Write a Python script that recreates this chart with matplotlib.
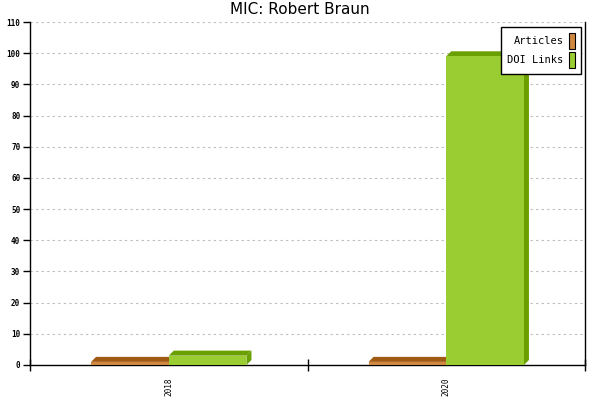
import matplotlib
matplotlib.use("Agg")
import matplotlib.pyplot as plt
from matplotlib.patches import Polygon, Rectangle

years = ["2018", "2020"]
articles = [1, 1]
doi_links = [3, 99]

series = [
  ("Articles", articles, "#d08840", "#a05a14"),
  ("DOI Links", doi_links, "#9acd32", "#6a9f00"),
]

fig = plt.figure(figsize=(6, 4), dpi=100)
ax = fig.add_axes([30 / 600, 35 / 400, 555 / 600, 343 / 400])

ymax = 110
ax.set_xlim(-0.5, len(years) - 0.5)
ax.set_ylim(0, ymax)

width = 0.28
# 3d depth: ~5px in data units
dx = 5 / 555 * len(years)
dy = 5 / 343 * ymax

for k, (name, vals, front, dark) in enumerate(series):
  for i, v in enumerate(vals):
    x0 = i - width + k * width
    x1 = x0 + width
    ax.add_patch(Polygon([(x0, v), (x0 + dx, v + dy), (x1 + dx, v + dy), (x1, v)],
                         closed=True, facecolor=dark, edgecolor="none", zorder=3))
    ax.add_patch(Polygon([(x1, 0), (x1 + dx, dy), (x1 + dx, v + dy), (x1, v)],
                         closed=True, facecolor=dark, edgecolor="none", zorder=3))
  ax.bar([i - width / 2 + k * width for i in range(len(years))], vals, width=width,
         color=front, edgecolor="none", zorder=4, label=name)

ax.set_yticks(range(0, ymax + 1, 10))
ax.yaxis.grid(True, linestyle=(0, (2, 3)), color="#bbbbbb", linewidth=0.8)
ax.set_axisbelow(True)

ax.set_xticks([i - 0.5 for i in range(len(years) + 1)])
ax.set_xticklabels([])
ax.set_xticks(range(len(years)), minor=True)
ax.set_xticklabels(years, minor=True, rotation=90, fontsize=5.5,
                   family="DejaVu Sans Mono")
ax.tick_params(axis="x", which="major", direction="inout", length=9, width=1)
ax.tick_params(axis="x", which="minor", length=0, pad=9)
ax.tick_params(axis="y", direction="out", length=5, width=1, pad=2)
for lab in ax.get_yticklabels():
  lab.set_fontsize(5.5)
  lab.set_family("DejaVu Sans Mono")
  lab.set_fontweight("bold")

ax.spines["top"].set_visible(False)
for s in ["left", "bottom", "right"]:
  ax.spines[s].set_linewidth(1)
  ax.spines[s].set_color("black")

handles = [Rectangle((0, 0), 1, 1, facecolor=c, edgecolor="black", linewidth=0.8)
           for _, _, c, _ in series]
leg = ax.legend(handles, [s[0] for s in series], loc="upper right",
                bbox_to_anchor=(0.993, 0.985), borderaxespad=0, markerfirst=False,
                prop={"family": "DejaVu Sans Mono", "size": 7.5},
                handlelength=0.6, handleheight=1.9, handletextpad=0.5,
                labelspacing=0.35, borderpad=0.6, fancybox=False,
                framealpha=1, edgecolor="black")
leg.get_frame().set_linewidth(1)
for t in leg.get_texts():
  t.set_ha("right")

fig.text(0.5, 1 - 10 / 400, "MIC: Robert Braun", ha="center", va="center",
         fontsize=11)

fig.savefig("out.png", dpi=100)
